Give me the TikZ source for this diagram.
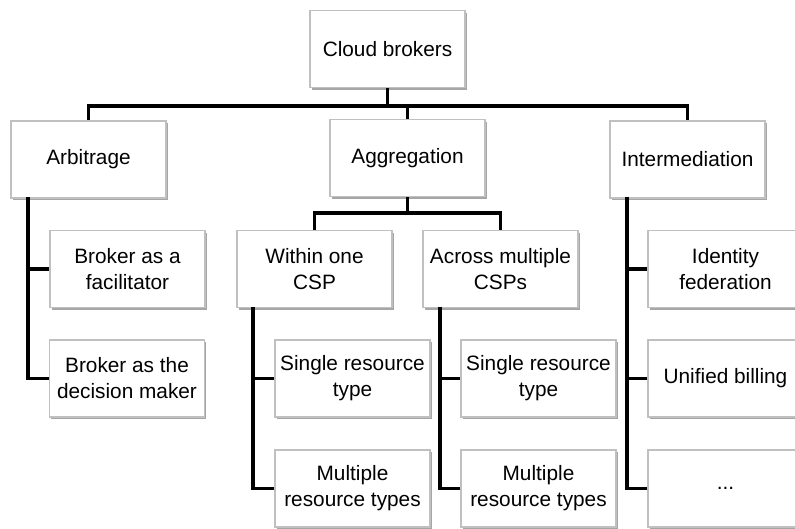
\documentclass[tikz,border=0pt]{standalone}
\usepackage{fontspec}
\setmainfont{Liberation Sans}
\usetikzlibrary{shadows}
\definecolor{boxline}{RGB}{192,192,192}
\begin{document}
\begin{tikzpicture}[x=1pt,y=-1pt,
  box/.style={draw=boxline, line width=1.5pt, fill=white,
    minimum width=155pt, minimum height=77pt, inner sep=0pt, align=center,
    font=\fontsize{20.8}{26}\selectfont,
    drop shadow={shadow xshift=1.5pt, shadow yshift=-2.2pt, fill=black, opacity=0.35}},
  conn/.style={draw=black, line width=3.6pt, line join=miter}]
\useasboundingbox (0,0) rectangle (795,529);
\clip (0,0) rectangle (795,529);
% level 0
\node[box] (root) at (387.5,49) {Cloud brokers};
% level 1
\node[box] (arb) at (88.5,159.5) {Arbitrage};
\node[box] (agg) at (407.5,158) {Aggregation};
\node[box] (int) at (687.5,159.5) {Intermediation};
% arbitrage children
\node[box] (fac) at (127.5,269) {Broker as a\\facilitator};
\node[box] (dec) at (127,378.5) {Broker as the\\decision maker};
% aggregation children
\node[box] (within) at (314.5,269) {Within one\\CSP};
\node[box] (across) at (500.5,269) {Across multiple\\CSPs};
\node[box] (wsingle) at (352.5,378.5) {Single resource\\type};
\node[box] (wmulti) at (352.5,488.5) {Multiple\\resource types};
\node[box] (asingle) at (538.5,378.5) {Single resource\\type};
\node[box] (amulti) at (538.5,488.5) {Multiple\\resource types};
% intermediation children
\node[box] (ident) at (725.5,269) {Identity\\federation};
\node[box] (bill) at (725.5,378.5) {Unified billing};
\node[box] (more) at (725.5,488.5) {...};
% connector coordinates
\coordinate (bar0) at (0,106);
\coordinate (bar1) at (0,213);
\coordinate (arbline) at (28,197);
\coordinate (withinline) at (253,307);
\coordinate (acrossline) at (440,307);
\coordinate (intline) at (627,197);
% top level connectors
\path[conn] (root.south) -- (root.south |- bar0);
\path[conn] (arb.north) -- (arb.north |- bar0) -| (int.north);
\path[conn] (agg.north) -- (agg.north |- bar0);
% aggregation connectors
\path[conn] (agg.south) -- (agg.south |- bar1);
\path[conn] (within.north) -- (within.north |- bar1) -| (across.north);
% arbitrage children
\path[conn] (arbline) |- (dec.west);
\path[conn] (arbline |- fac.west) -- (fac.west);
% within children
\path[conn] (withinline) |- (wmulti.west);
\path[conn] (withinline |- wsingle.west) -- (wsingle.west);
% across children
\path[conn] (acrossline) |- (amulti.west);
\path[conn] (acrossline |- asingle.west) -- (asingle.west);
% intermediation children
\path[conn] (intline) |- (more.west);
\path[conn] (intline |- ident.west) -- (ident.west);
\path[conn] (intline |- bill.west) -- (bill.west);
\end{tikzpicture}
\end{document}
